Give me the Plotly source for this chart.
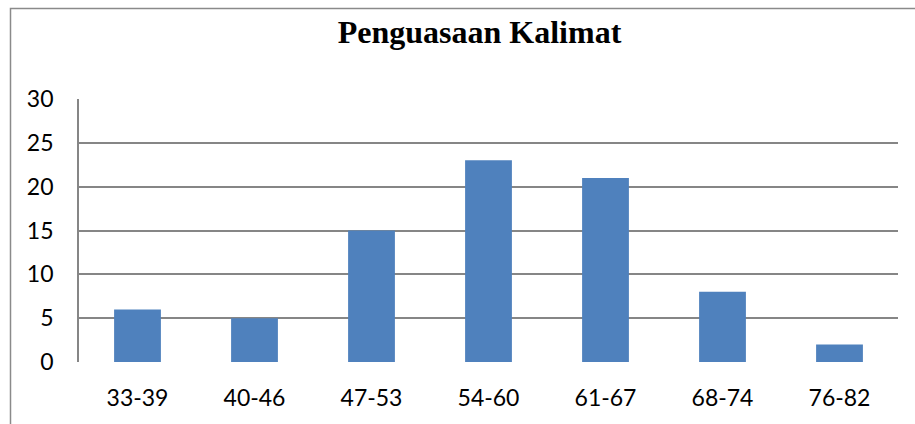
import plotly.graph_objects as go

categories = ["33-39", "40-46", "47-53", "54-60", "61-67", "68-74", "76-82"]
values = [6, 5, 15, 23, 21, 8, 2]
y_ticks = [0, 5, 10, 15, 20, 25, 30]
title_text = "Penguasaan Kalimat"

W, H = 915, 424
L, R, T, B = 79, 17, 99, 62
pw, ph = W - L - R, H - T - B

def px_x(x):
    return (x - L) / pw

def px_y(y):
    return (H - B - y) / ph

fig = go.Figure()
fig.add_trace(go.Bar(x=categories, y=values, marker=dict(color="#4F81BD", line=dict(width=0)),
                     hoverinfo="x+y"))

grid_col = "#868686"
fig.update_layout(
    width=W, height=H,
    margin=dict(l=L, r=R, t=T, b=B),
    paper_bgcolor="white", plot_bgcolor="white",
    bargap=0.6,
    showlegend=False,
    title=dict(text="<b>" + title_text + "</b>", x=479.5 / W, xanchor="center",
               y=1 - 32 / H, yanchor="middle", yref="container",
               font=dict(family="Liberation Serif", size=32, color="black")),
    xaxis=dict(showgrid=False, showline=False, ticks="", ticklabelstandoff=20,
               tickfont=dict(family="Lato", size=23, color="black"), fixedrange=True),
    yaxis=dict(range=[0, 30], tickvals=y_ticks, showgrid=True, gridcolor=grid_col, gridwidth=1.8,
               zeroline=False, showline=True, linecolor=grid_col, linewidth=1.8, ticks="",
               ticklabelstandoff=19,
               tickfont=dict(family="Lato", size=23, color="black"), fixedrange=True),
    shapes=[dict(type="rect", xref="paper", yref="paper",
                 x0=px_x(10.5), x1=px_x(925), y0=px_y(435), y1=px_y(8.5),
                 line=dict(color="#8a8a8a", width=1.5), fillcolor="rgba(0,0,0,0)", layer="above")],
)

fig.write_html("out.html", config={"displayModeBar": False},
               post_script="document.body.style.margin='0px';document.body.style.overflow='hidden';")
